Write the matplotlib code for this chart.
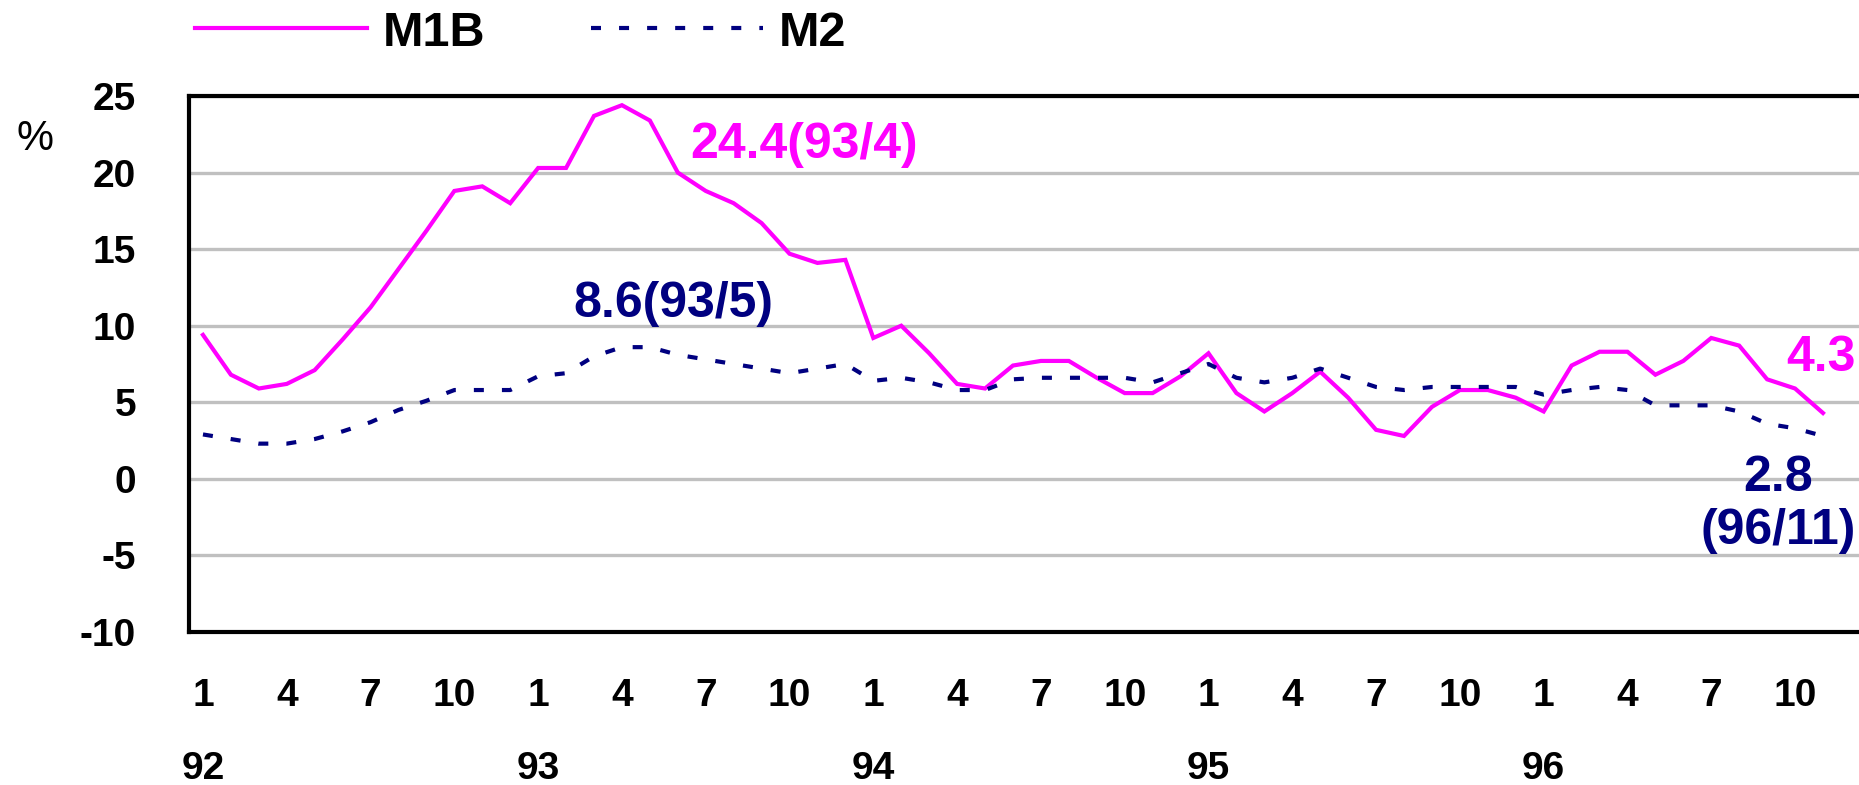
import matplotlib
matplotlib.use("Agg")
import matplotlib.pyplot as plt
from matplotlib.lines import Line2D

plt.rcParams["font.family"] = ["Liberation Sans", "DejaVu Sans"]
plt.rcParams["lines.scale_dashes"] = False

# monthly growth rates, 92/1 .. 96/11 (%)
m1b = [9.4, 6.8, 5.9, 6.2, 7.1, 9.1, 11.2, 13.7, 16.2, 18.8, 19.1, 18.0,
       20.3, 20.3, 23.7, 24.4, 23.4, 20.0, 18.8, 18.0, 16.7, 14.7, 14.1, 14.3,
       9.2, 10.0, 8.2, 6.2, 5.9, 7.4, 7.7, 7.7, 6.6, 5.6, 5.6, 6.7,
       8.2, 5.6, 4.4, 5.6, 7.0, 5.3, 3.2, 2.8, 4.7, 5.8, 5.8, 5.3,
       4.4, 7.4, 8.3, 8.3, 6.8, 7.7, 9.2, 8.7, 6.5, 5.9, 4.3]
m2 = [2.9, 2.6, 2.3, 2.3, 2.6, 3.1, 3.7, 4.5, 5.1, 5.8, 5.8, 5.8,
      6.7, 6.9, 8.0, 8.6, 8.6, 8.1, 7.8, 7.5, 7.2, 6.9, 7.2, 7.5,
      6.4, 6.6, 6.3, 5.8, 5.8, 6.5, 6.6, 6.6, 6.6, 6.6, 6.3, 6.9,
      7.5, 6.6, 6.3, 6.6, 7.2, 6.6, 6.0, 5.8, 6.0, 6.0, 6.0, 6.0,
      5.5, 5.8, 6.0, 5.8, 4.8, 4.8, 4.8, 4.4, 3.6, 3.3, 2.8]

month_ticks = list(range(0, 59, 3))
month_labels = ["1", "4", "7", "10"] * 5
year_pos = [0, 12, 24, 36, 48]
year_labels = ["92", "93", "94", "95", "96"]
yticks = [25, 20, 15, 10, 5, 0, -5, -10]

MAGENTA = "#FF00FF"
NAVY = "#000080"

fig = plt.figure(figsize=(18.59, 7.85), dpi=100)
ax = fig.add_axes([189 / 1859, 1 - 632 / 785, 1 - 189 / 1859, (632 - 96) / 785])

x = list(range(len(m1b)))
ax.plot(x, m1b, color=MAGENTA, lw=3.0, solid_joinstyle="miter", zorder=3)
ax.plot(x, m2, color=NAVY, lw=3.0, linestyle=(0, (7.2, 13.0)),
        dash_capstyle="butt", zorder=4)

ax.set_xlim(-0.5, 59.29)
ax.set_ylim(-10, 25)

ax.set_yticks(yticks)
ax.set_yticklabels([str(v) for v in yticks], fontsize=28, fontweight="bold")
ax.set_xticks(month_ticks)
ax.set_xticklabels(month_labels, fontsize=28, fontweight="bold")
ax.tick_params(axis="y", length=0, pad=38)
ax.tick_params(axis="x", length=0, pad=33)

ax.grid(axis="y", color="#C0C0C0", lw=2.4, zorder=1)
ax.set_axisbelow(True)

for side in ["left", "top", "bottom"]:
    ax.spines[side].set_linewidth(3.0)
    ax.spines[side].set_color("black")
ax.spines["right"].set_visible(False)

# year labels under the month ticks
for pos, lab in zip(year_pos, year_labels):
    ax.text(pos, (632 - 779) / 536, lab, transform=ax.get_xaxis_transform(),
            ha="center", va="baseline", fontsize=28, fontweight="bold")

fig.text(35 / 1859, 1 - 139 / 785, "%", ha="center", va="center", fontsize=30)

# annotations
ax.text(17.44, 20.93, "24.4(93/4)", color=MAGENTA, fontsize=36,
        fontweight="bold", ha="left", va="baseline")
ax.text(13.25, 10.59, "8.6(93/5)", color=NAVY, fontsize=36,
        fontweight="bold", ha="left", va="baseline")
ax.text(57.93, 7.04, "4.3", color=MAGENTA, fontsize=36,
        fontweight="bold", ha="center", va="baseline")
ax.text(56.39, -0.78, "2.8", color=NAVY, fontsize=36,
        fontweight="bold", ha="center", va="baseline")
ax.text(56.39, -4.26, "(96/11)", color=NAVY, fontsize=36,
        fontweight="bold", ha="center", va="baseline")

handles = [
    Line2D([], [], color=MAGENTA, lw=3.0),
    Line2D([], [], color=NAVY, lw=3.0, linestyle=(0, (7.2, 13.0)),
           dash_capstyle="butt"),
]
fig.legend(handles, ["M1B", "M2"], loc="center left",
           bbox_to_anchor=(195 / 1859, 1 - 33 / 785), ncol=2, frameon=False,
           prop={"size": 35, "weight": "bold"}, handlelength=172 / 48.6,
           handletextpad=16 / 48.6, columnspacing=105 / 48.6,
           borderpad=0, borderaxespad=0)

fig.savefig("out.png", dpi=100)
